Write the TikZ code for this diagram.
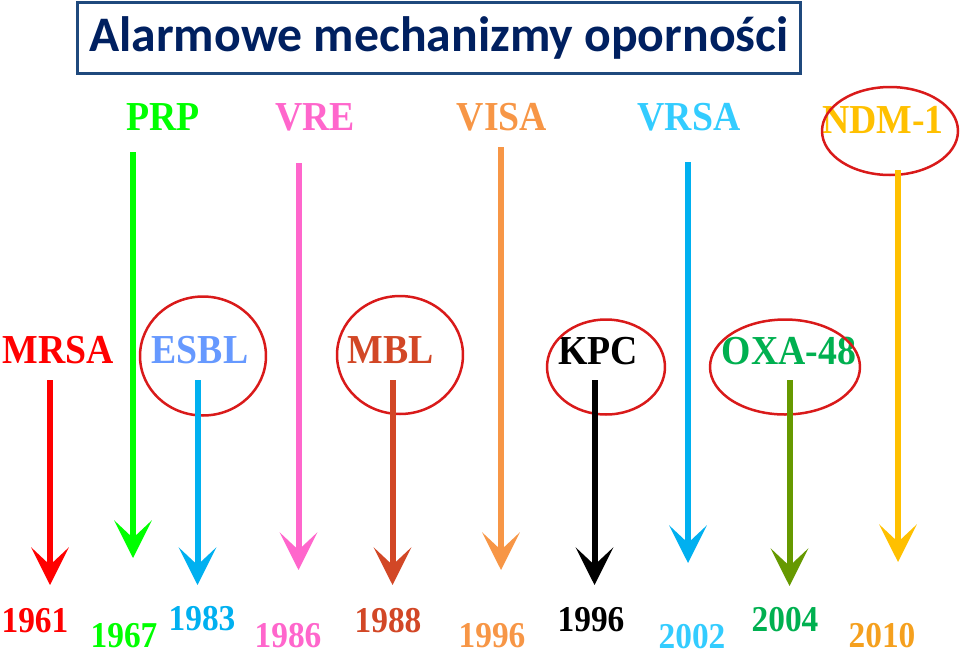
\documentclass[tikz,border=0pt]{standalone}
\usepackage{fontspec}
\setmainfont{Liberation Serif}
\newfontfamily\titlefont{Carlito}
\usetikzlibrary{arrows.meta,shapes.geometric}

\definecolor{navy}{HTML}{002060}
\definecolor{boxblue}{HTML}{1F497D}
\definecolor{ringred}{HTML}{D91A1A}
\definecolor{cMRSA}{HTML}{FF0000}
\definecolor{cPRP}{HTML}{00FF00}
\definecolor{cESBL}{HTML}{6699FF}
\definecolor{cSky}{HTML}{00B0F0}
\definecolor{cVRE}{HTML}{FF66CC}
\definecolor{cMBL}{HTML}{D24726}
\definecolor{cVISA}{HTML}{F79646}
\definecolor{cVRSA}{HTML}{33CCFF}
\definecolor{cOXA}{HTML}{00B050}
\definecolor{cOlive}{HTML}{669900}
\definecolor{cNDM}{HTML}{FFC000}
\definecolor{cTen}{HTML}{F5A01E}

% slightly taller lettering, as in the slide
\newcommand\tallt[1]{\scalebox{1}[1.09]{#1}}

\begin{document}
\begin{tikzpicture}[
  x=0.02cm,y=-0.02cm,
  >={Stealth[length=0.75cm,width=0.75cm,inset=0.35cm]},
  lbl/.style={font=\bfseries\fontsize{21.5}{24}\selectfont,anchor=base,inner sep=0pt},
  yr/.style={font=\bfseries\fontsize{19}{22}\selectfont,anchor=base,inner sep=0pt},
  mech/.style={->,line width=0.12cm},
  ring/.style={draw=ringred,ellipse,line width=0.05cm,inner sep=0pt}
]
\useasboundingbox (0,0) rectangle (960,654);
% title
\node[draw=boxblue,line width=0.06cm,minimum width=14.48cm,minimum height=1.42cm,
  font=\titlefont\bfseries\fontsize{28.3}{30}\selectfont,text=navy] (title) at (439,37.5)
  {Alarmowe mechanizmy oporności};
% upper labels
\node[lbl,cPRP] (prp) at (163,130) {\tallt{PRP}};
\node[lbl,cVRE] (vre) at (315,130) {\tallt{VRE}};
\node[lbl,cVISA] (visa) at (502,130) {\tallt{VISA}};
\node[lbl,cVRSA] (vrsa) at (689,130) {\tallt{VRSA}};
\node[lbl,cNDM] (ndm) at (883,133) {\tallt{NDM-1}};
% lower labels
\node[lbl,cMRSA] (mrsa) at (58,363) {\tallt{MRSA}};
\node[lbl,cESBL] (esbl) at (200,363) {\tallt{ESBL}};
\node[lbl,cMBL] (mbl) at (391,363) {\tallt{MBL}};
\node[lbl,black] (kpc) at (598,364) {\tallt{KPC}};
\node[lbl,cOXA] (oxa) at (789,364) {\tallt{OXA-48}};
% rings
\node[ring,minimum width=2.72cm,minimum height=1.76cm] (ndm-ring) at (890,131) {};
\node[ring,minimum width=2.52cm,minimum height=2.38cm] (esbl-ring) at (203,356) {};
\node[ring,minimum width=2.52cm,minimum height=2.36cm] (mbl-ring) at (400,355) {};
\node[ring,minimum width=2.36cm,minimum height=1.90cm] (kpc-ring) at (606,367) {};
\node[ring,minimum width=3.00cm,minimum height=1.90cm] (oxa-ring) at (785,367) {};
% arrows
\foreach \n/\x/\ya/\yb/\c in {mrsa/50/380/585/cMRSA,prp/133/152/558/cPRP,esbl/197.5/380/585/cSky,
  vre/298.5/163/570/cVRE,mbl/392.5/380/585/cMBL,visa/501/147/570/cVISA,kpc/594.5/380/585/black,
  vrsa/688/162/563/cSky,oxa/789.5/380/586/cOlive,ndm/898/170/562/cNDM}{
  \coordinate (\n-top) at (\x,\ya);
  \coordinate (\n-tip) at (\x,\yb);
  \draw[mech,color=\c] (\n-top) -- (\n-tip);
}
% years
\node[yr,cMRSA] (y61) at (35,632) {\tallt{1961}};
\node[yr,cPRP] (y67) at (124,647) {\tallt{1967}};
\node[yr,cSky] (y83) at (202,630) {\tallt{1983}};
\node[yr,cVRE] (y86) at (288,647) {\tallt{1986}};
\node[yr,cMBL] (y88) at (388,632) {\tallt{1988}};
\node[yr,cVISA] (y96a) at (492,647) {\tallt{1996}};
\node[yr,black] (y96b) at (591,631) {\tallt{1996}};
\node[yr,cVRSA] (y02) at (692,648) {\tallt{2002}};
\node[yr,cOXA] (y04) at (785,631) {\tallt{2004}};
\node[yr,cTen] (y10) at (882,647) {\tallt{2010}};
\end{tikzpicture}
\end{document}
